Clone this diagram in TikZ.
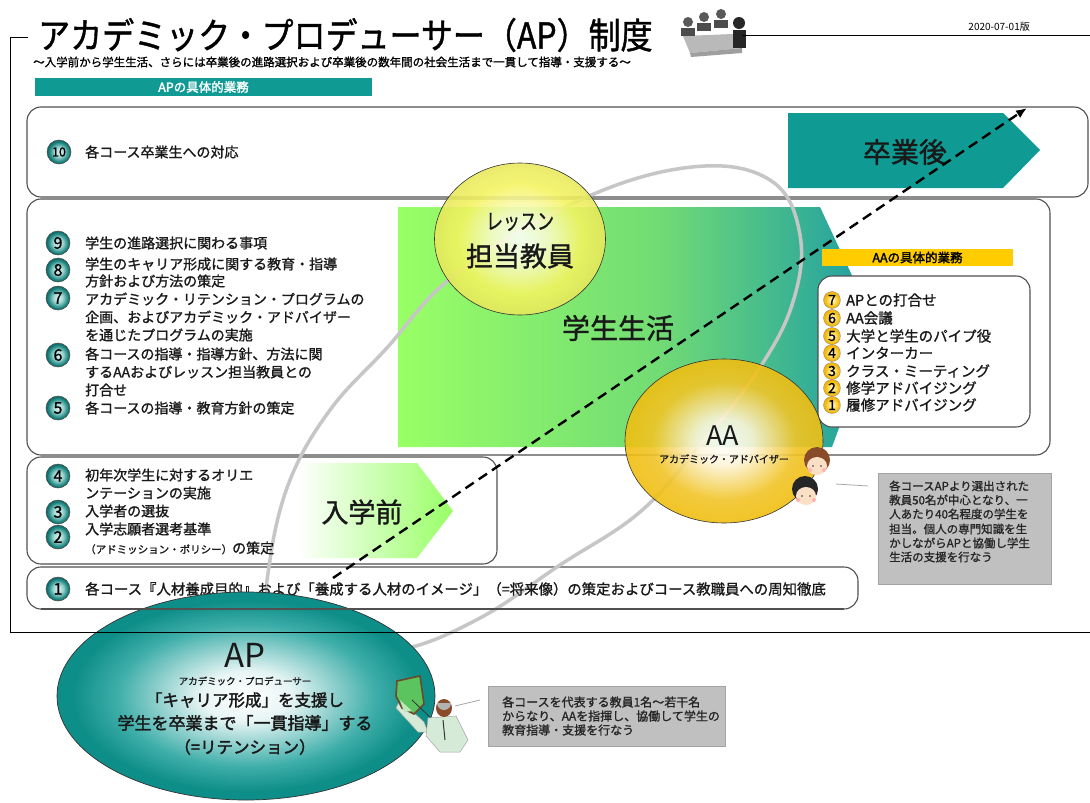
\documentclass[tikz,border=0pt]{standalone}
\usepackage{fontspec}
\setmainfont{Noto Sans CJK JP}
\newfontfamily\jpheavy{Noto Sans CJK JP}[FakeBold=2]
\newfontfamily\jpmid{Noto Sans CJK JP}[FakeBold=1.2]
\usetikzlibrary{shapes.geometric,arrows.meta}

\definecolor{apteal}{HTML}{0F9A94}
\definecolor{deepteal}{HTML}{16807B}
\definecolor{ballteal}{HTML}{9ED6D1}
\definecolor{boxline}{HTML}{505050}
\definecolor{ringgray}{HTML}{C6C6C6}
\definecolor{notegray}{HTML}{C0C0C0}
\definecolor{aagold}{HTML}{F0BE10}
\definecolor{lessonyellow}{HTML}{F4F460}
\definecolor{tagyellow}{HTML}{FFCC00}
\definecolor{springgreen}{HTML}{99FF66}
\definecolor{meadow}{HTML}{72DC74}
\definecolor{skin}{HTML}{FBE0C6}
\definecolor{hairbrown}{HTML}{8A4B2A}
\definecolor{boardgreen}{HTML}{5CC45E}
\definecolor{framebrown}{HTML}{6B4A2A}
\definecolor{shirt}{HTML}{D6EAD8}

\pgfdeclarehorizontalshading{lifeshade}{100bp}{color(0bp)=(springgreen); color(25bp)=(springgreen); color(52bp)=(meadow); color(72bp)=(apteal!90); color(75bp)=(apteal); color(100bp)=(apteal)}
\pgfdeclareradialshading{apshade}{\pgfpoint{0bp}{0bp}}{color(0bp)=(white); color(6bp)=(white!90!apteal); color(17bp)=(apteal!80); color(23bp)=(apteal!92!black); color(25bp)=(apteal!92!black); color(50bp)=(apteal!92!black)}
\pgfdeclareradialshading{aashade}{\pgfpoint{0bp}{0bp}}{color(0bp)=(white); color(7bp)=(white!85!aagold); color(18bp)=(aagold!90); color(25bp)=(aagold); color(50bp)=(aagold)}
\pgfdeclareradialshading{lessonshade}{\pgfpoint{0bp}{0bp}}{color(0bp)=(white); color(8bp)=(white!70!lessonyellow); color(18bp)=(lessonyellow); color(25bp)=(lessonyellow!95!black); color(50bp)=(lessonyellow!95!black)}
\pgfdeclareradialshading{numshade}{\pgfpoint{0bp}{0bp}}{color(0bp)=(white!70!ballteal); color(10bp)=(ballteal); color(21bp)=(deepteal); color(25bp)=(deepteal!80!black); color(50bp)=(deepteal!80!black)}
\pgfdeclareradialshading{aanumshade}{\pgfpoint{0bp}{0bp}}{color(0bp)=(white); color(10bp)=(tagyellow!60); color(21bp)=(aagold!90!orange); color(25bp)=(aagold!80!orange); color(50bp)=(aagold!80!orange)}

\newcommand{\fsz}[1]{\fontsize{#1}{#1}\selectfont}

\begin{document}
\begin{tikzpicture}[x=1pt,y=-1pt,
  panel/.style={draw=boxline, line width=1.1pt, rounded corners=14pt, fill=white},
  numball/.style={circle, draw=black!70, line width=0.5pt, inner sep=0pt, minimum size=24pt, shading=numshade, font=\jpmid\fsz{16}},
  aaball/.style={circle, draw=black!50, line width=0.3pt, inner sep=0pt, minimum size=17pt, shading=aanumshade, font=\jpmid\fsz{14}},
  rowtext/.style={anchor=west, inner sep=0pt, font=\jpmid\fsz{14}, text=black!90},
  notetext/.style={anchor=west, inner sep=0pt, font=\jpmid\fsz{11.5}, text=black!85},
  bigword/.style={inner sep=0pt, text=black!90},
  notebox/.style={fill=notegray, draw=notegray!85!black, line width=0.3pt, inner sep=0pt},
  tagbar/.style={inner sep=0pt, minimum height=18pt, font=\jpheavy\fsz{12.5}}
]
\useasboundingbox (0,0) rectangle (1090,803);
\fill[white] (0,0) rectangle (1090,803);

% ---- heading ----
\node[anchor=west, inner sep=0pt, font=\jpmid\fsz{32}] (title) at (38,35) {\scalebox{1}[1.12]{アカデミック・プロデューサー（AP）制度}};
\node[anchor=east, inner sep=0pt, font=\fsz{10}] (date) at (1030,27) {2020-07-01版};
\node[anchor=west, inner sep=0pt, font=\jpmid\fsz{11.5}] (subtitle) at (33,62) {～入学前から学生生活、さらには卒業後の進路選択および卒業後の数年間の社会生活まで一貫して指導・支援する～};

% meeting icon
\fill[gray!55] (683,36) -- (733,34) -- (742,48) -- (690,53) -- cycle;
\fill[gray!75] (690,53) -- (742,48) -- (742,53) -- (691,57) -- cycle;
\foreach \hx/\hy in {688/22, 704/17, 721/14}{
  \fill[black!70] (\hx-7,\hy+14) rectangle (\hx+7,\hy+6);
  \fill[black!65] (\hx,\hy) circle (5);
}
\fill[black!85] (733,30) rectangle (746,48);
\fill[black!85] (739,23) circle (6);

% outer frame
\draw[line width=1pt] (28,37) -- (10,37) -- (10,632);
\draw[line width=1pt] (742,35) -- (1090,35);

\node[tagbar, fill=apteal, text=white, minimum width=337pt] (aptag) at (203.5,87) {APの具体的業務};

% ---- panels ----
\draw[panel] (27,107) rectangle (1088,197);
\draw[panel] (27,199) rectangle (1050,455);
\draw[panel] (27,457) rectangle (497,564);
\draw[panel] (27,567) rectangle (858,609);

% stage arrows
\shade[shading=lifeshade] (398,207) -- (820,207) -- (876,327) -- (832,447) -- (398,447) -- cycle;
\shade[left color=white, right color=springgreen] (297,463) -- (417,463) -- (453,511) -- (417,558) -- (297,558) -- cycle;
\fill[apteal] (788,113) -- (1003,113) -- (1040,150) -- (1003,188) -- (788,188) -- cycle;

\node[bigword, font=\jpmid\fsz{28}] (grad) at (905,152) {卒業後};
\node[bigword, font=\jpmid\fsz{28}] (life) at (618,328) {学生生活};
\node[bigword, font=\jpmid\fsz{27}] (pre) at (362,512) {入学前};

% cooperation ring
\draw[ringgray, line width=3.5pt] plot[smooth cycle, tension=0.65] coordinates {
  (692,167) (770,180) (800,235) (792,305) (755,375) (700,445) (640,512) (560,565)
  (480,618) (400,650) (320,652) (272,610) (270,560) (290,480) (330,410) (385,350)
  (456,274) (580,200)};

% lesson teachers
\node[ellipse, draw=black!80, line width=0.6pt, shading=lessonshade, fill opacity=0.88, minimum width=171pt, minimum height=152pt] (lesson) at (520,239) {};
\node[bigword, font=\jpmid\fsz{20}] (lessonA) at (520,222) {\scalebox{0.85}[1.1]{レッスン}};
\node[bigword, font=\jpmid\fsz{27}] (lessonB) at (520,256) {担当教員};

% ---- AA duties ----
\node[tagbar, fill=tagyellow, minimum width=191pt, minimum height=17pt] (aatag) at (917.5,257.5) {AAの具体的業務};
\draw[panel] (818,276) rectangle (1030,427);
\foreach \k/\yy/\txt in {7/300/APとの打合せ, 6/318/AA会議, 5/336/大学と学生のパイプ役, 4/353/インターカー, 3/371/クラス・ミーティング, 2/388/修学アドバイジング, 1/405/履修アドバイジング}{
  \node[aaball] (aa\k) at (832,\yy) {\k};
  \node[rowtext, font=\jpmid\fsz{14.5}] (aat\k) at (846,\yy) {\txt};
}

% academic advisers
\node[ellipse, draw=black!80, line width=0.6pt, shading=aashade, fill opacity=0.9, minimum width=198pt, minimum height=164pt] (aa) at (724,441) {};
\node[bigword, font=\fsz{27}] (aaA) at (723,436) {AA};
\node[bigword, font=\jpmid\fsz{10}] (aaB) at (724,459) {アカデミック・アドバイザー};

% adviser faces
\fill[hairbrown] (817,460) circle (13);
\fill[skin] (817,466) ellipse (10 and 9);
\fill[hairbrown] (806,462) .. controls (808,450) and (826,450) .. (828,462) .. controls (822,455) and (812,455) .. (806,462) -- cycle;
\fill[black!80] (813,466) circle (0.9) (821,466) circle (0.9);
\fill[red!30] (810,470) circle (2) (824,470) circle (2);
\fill[black!85] (805,489) circle (13);
\fill[skin] (806,496) ellipse (10 and 9);
\fill[black!85] (794,492) .. controls (796,480) and (814,478) .. (817,490) .. controls (810,484) and (800,485) .. (794,492) -- cycle;
\fill[black!80] (802,496) circle (0.9) (810,496) circle (0.9);
\fill[red!30] (798,500) circle (2) (814,500) circle (2);

% AA note
\node[notebox, minimum width=173pt, minimum height=111pt] (aanote) at (964.5,528.5) {};
\foreach \yy/\txt in {486/各コースAPより選出された, 500/教員50名が中心となり、一, 514/人あたり40名程度の学生を, 529/担当。個人の専門知識を生, 543/かしながらAPと協働し学生, 557/生活の支援を行なう}{
  \node[notetext] at (889,\yy) {\txt};
}
\coordinate (aalinkA) at (836,484);
\coordinate (aalinkB) at (868,486);
\draw[gray!70, line width=0.8pt] (aalinkA) -- (aalinkB);

% ---- AP duties list ----
\node[numball, font=\jpmid\fsz{12.5}] (n10) at (59,152) {10};
\node[rowtext] at (85,152) {各コース卒業生への対応};

\node[numball] (n9) at (58,243) {9};
\node[rowtext] at (85,243) {学生の進路選択に関わる事項};
\node[numball] (n8) at (58,270) {8};
\node[rowtext] at (85,264) {学生のキャリア形成に関する教育・指導};
\node[rowtext] at (85,281) {方針および方法の策定};
\node[numball] (n7) at (58,298) {7};
\node[rowtext] at (85,299) {アカデミック・リテンション・プログラムの};
\node[rowtext] at (85,317) {企画、およびアカデミック・アドバイザー};
\node[rowtext] at (85,335) {を通じたプログラムの実施};
\node[numball] (n6) at (58,355) {6};
\node[rowtext] at (85,354) {各コースの指導・指導方針、方法に関};
\node[rowtext] at (85,372) {するAAおよびレッスン担当教員との};
\node[rowtext] at (85,390) {打合せ};
\node[numball] (n5) at (58,408) {5};
\node[rowtext] at (85,408) {各コースの指導・教育方針の策定};

\node[numball] (n4) at (58,476) {4};
\node[rowtext] at (85,475) {初年次学生に対するオリエ};
\node[rowtext] at (85,493) {ンテーションの実施};
\node[numball] (n3) at (58,512) {3};
\node[rowtext] at (85,511) {入学者の選抜};
\node[numball] (n2) at (58,537) {2};
\node[rowtext] at (85,529) {入学志願者選考基準};
\node[rowtext] at (85,548) {{\fsz{10.5}（アドミッション・ポリシー）}の策定};

\node[numball] (n1) at (58,589) {1};
\node[rowtext, font=\jpmid\fsz{14.4}] (row1) at (85,589) {各コース『人材養成目的』および「養成する人材のイメージ」（=将来像）の策定およびコース教職員への周知徹底};

% progression arrow
\coordinate (progA) at (333,578);
\coordinate (progB) at (1027,108);
\draw[black, line width=2.4pt, dash pattern=on 10pt off 6pt, -{Latex[length=11pt,width=9pt]}] (progA) -- (progB);

% ---- academic producer ----
\node[ellipse, draw=black!80, line width=0.7pt, shading=apshade, minimum width=378pt, minimum height=208pt] (ap) at (246,696) {};
\draw[boxline, line width=1.1pt] (41,609) -- (844,609);
\draw[line width=1pt] (10,632) -- (1090,632);
\node[bigword, font=\fsz{33}] (apA) at (245,655) {AP};
\node[bigword, font=\jpmid\fsz{9.5}] (apB) at (245,681) {アカデミック・プロデューサー};
\node[bigword, font=\jpheavy\fsz{16.5}] (apC) at (245,700) {「キャリア形成」を支援し};
\node[bigword, font=\jpheavy\fsz{17}] (apD) at (245,723) {学生を卒業まで「一貫指導」する};
\node[bigword, font=\jpheavy\fsz{16.5}] (apE) at (245,747) {（=リテンション）};

% producer figure
\fill[shirt] (400,700) -- (424,722) -- (428,732) -- (418,732) -- (396,708) -- cycle;
\draw[gray!70, line width=0.5pt] (400,700) -- (424,722) -- (428,732) -- (418,732) -- (396,708) -- cycle;
\filldraw[fill=boardgreen, draw=framebrown, line width=1.6pt] (397,681) -- (420,676) -- (424,704) -- (414,714) -- (402,708) -- (396,696) -- cycle;
\fill[white!60!boardgreen] (400,700) -- (412,711) -- (404,712) -- cycle;
\draw[black!80, line width=0.8pt] (412,700) -- (433,720);
\filldraw[fill=shirt, draw=gray!70, line width=0.5pt] (428,718) -- (456,716) -- (468,740) -- (460,752) -- (440,752) -- (426,736) -- cycle;
\draw[black!80, line width=1pt] (443,720) -- (445,740);
\fill[hairbrown] (444,708) ellipse (8 and 9);
\fill[gray!60] (437,703) arc[start angle=180, end angle=0, radius=7];

% AP note
\node[notebox, minimum width=237pt, minimum height=60pt] (apnote) at (606.5,716) {};
\foreach \yy/\txt in {702/各コースを代表する教員1名～若干名, 716/からなり、AAを指揮し、協働して学生の, 730/教育指導・支援を行なう}{
  \node[notetext, font=\jpmid\fsz{12}] at (502,\yy) {\txt};
}
\coordinate (aplinkA) at (455,706);
\coordinate (aplinkB) at (480,700);
\draw[gray!70, line width=0.8pt] (aplinkA) -- (aplinkB);
\end{tikzpicture}
\end{document}
